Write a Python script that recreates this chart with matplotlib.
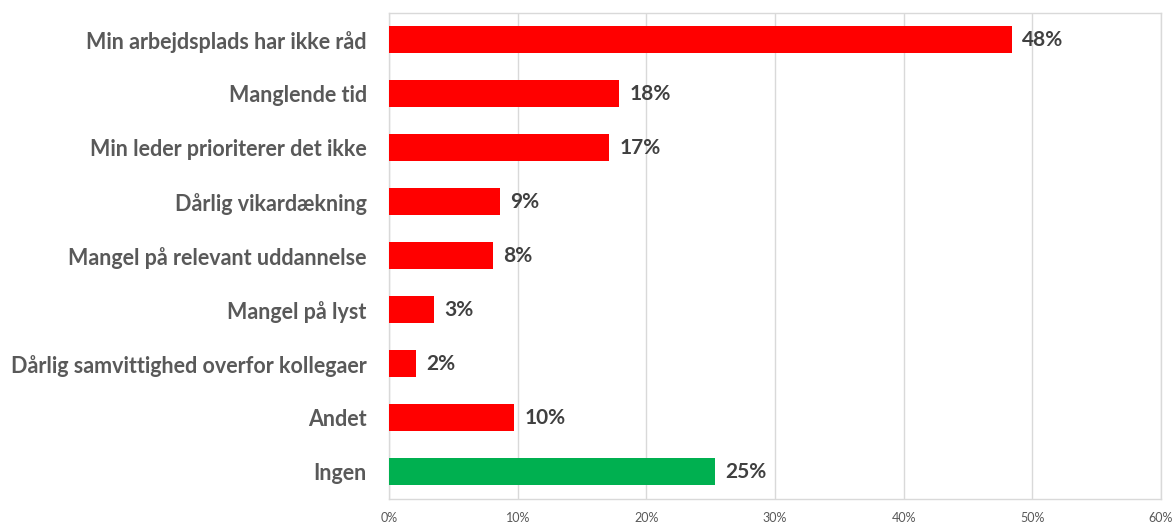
import matplotlib
matplotlib.use("Agg")
import matplotlib.pyplot as plt

categories = ["Min arbejdsplads har ikke råd", "Manglende tid", "Min leder prioriterer det ikke",
              "Dårlig vikardækning", "Mangel på relevant uddannelse", "Mangel på lyst",
              "Dårlig samvittighed overfor kollegaer", "Andet", "Ingen"]
values = [48.4, 17.9, 17.1, 8.6, 8.1, 3.5, 2.1, 9.7, 25.3]
labels = ["48%", "18%", "17%", "9%", "8%", "3%", "2%", "10%", "25%"]
colors = ["#FF0000"] * 8 + ["#00B050"]
xticks = [0, 10, 20, 30, 40, 50, 60]

plt.rcParams["font.family"] = ["Lato", "DejaVu Sans"]

fig = plt.figure(figsize=(11.74, 5.24), dpi=100)
ax = fig.add_axes([389 / 1174, 25 / 524, 772 / 1174, 486 / 524])

y = list(range(len(categories)))
ax.barh(y, values, height=0.5, color=colors, zorder=3)
for yi, v, lab in zip(y, values, labels):
    ax.text(v + 0.8, yi, lab, va="center", ha="left", fontsize=15, fontweight="bold", color="#404040")

ax.set_ylim(len(categories) - 0.5, -0.5)
ax.set_xlim(0, 60)
ax.set_yticks(y)
ax.set_yticklabels(categories, fontsize=15.5, fontweight="bold", color="#595959")
ax.set_xticks(xticks)
ax.set_xticklabels([f"{t}%" for t in xticks], fontsize=9, color="#595959")
ax.tick_params(axis="both", length=0)
ax.tick_params(axis="y", pad=16)
ax.tick_params(axis="x", pad=9)
ax.grid(axis="x", color="#D9D9D9", linewidth=1, zorder=0)
for s in ax.spines.values():
    s.set_color("#D9D9D9")
    s.set_linewidth(1)

fig.savefig("out.png", dpi=100)
